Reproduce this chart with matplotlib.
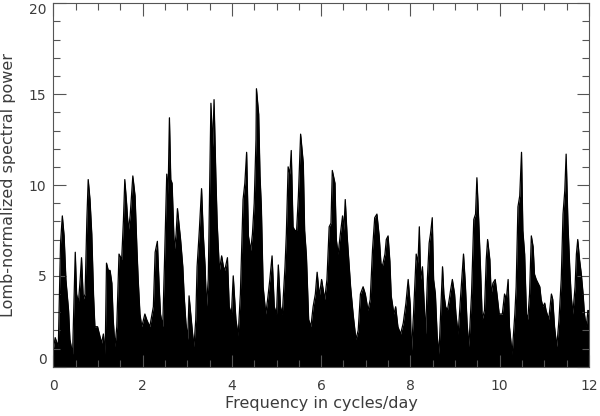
import numpy as np
import matplotlib
matplotlib.use("Agg")
import matplotlib.pyplot as plt
from matplotlib.ticker import MultipleLocator

# envelope of the periodogram (cycles/day, power)
freq_a = [0.00, 0.04, 0.11, 0.16, 0.20, 0.24, 0.28, 0.34, 0.37, 0.43, 0.45, 0.49, 0.52, 0.56, 0.60,
          0.63, 0.67, 0.71, 0.75, 0.78, 0.82, 0.86, 0.90, 0.93, 0.99, 1.03, 1.08, 1.12, 1.16, 1.19,
          1.23, 1.27, 1.31, 1.34, 1.38, 1.42, 1.47, 1.53, 1.57, 1.60, 1.64, 1.68, 1.72, 1.78, 1.83,
          1.87, 1.90, 1.94, 1.98, 2.05, 2.09, 2.16, 2.24, 2.28, 2.33, 2.37, 2.40, 2.45, 2.49, 2.54,
          2.57, 2.60, 2.63, 2.66, 2.71, 2.75, 2.78, 2.82, 2.85, 2.90, 2.93, 2.97, 3.01, 3.04, 3.07,
          3.12, 3.15, 3.19, 3.22, 3.27, 3.32, 3.36, 3.40, 3.43, 3.47, 3.49, 3.53, 3.57, 3.60, 3.64,
          3.67, 3.72, 3.77, 3.81, 3.84, 3.90, 3.94, 3.99]
power_a = [1.0, 1.6, 1.1, 6.8, 8.3, 7.2, 4.8, 3.1, 1.5, 0.7, 2.6, 6.3, 4.0, 3.5, 4.8,
           6.0, 3.7, 4.0, 8.1, 10.3, 9.2, 7.3, 3.9, 2.2, 2.2, 1.8, 1.3, 1.8, 0.7, 5.7,
           5.3, 5.3, 4.6, 2.6, 1.1, 2.2, 6.2, 5.9, 8.1, 10.3, 9.0, 7.5, 8.3, 10.5, 9.4,
           6.6, 4.8, 2.9, 2.2, 2.9, 2.6, 2.2, 3.3, 6.3, 6.9, 4.4, 2.9, 2.2, 5.8, 10.6,
           9.5, 13.7, 10.3, 10.1, 6.4, 7.3, 8.7, 7.7, 7.0, 5.5, 3.9, 2.4, 1.5, 3.9, 3.1,
           1.8, 1.1, 2.6, 5.5, 7.5, 9.8, 7.2, 5.5, 3.3, 4.8, 8.1, 14.5, 12.1, 14.7, 10.5,
           7.9, 5.3, 6.1, 5.5, 5.3, 6.0, 3.3, 2.9]

freq_b = [4.03, 4.09, 4.14, 4.19, 4.25, 4.29, 4.33, 4.37, 4.42, 4.46, 4.50, 4.54, 4.55, 4.60, 4.63,
          4.66, 4.70, 4.76, 4.81, 4.85, 4.90, 4.95, 5.00, 5.04, 5.09, 5.13, 5.19, 5.22, 5.26, 5.30,
          5.33, 5.37, 5.41, 5.45, 5.49, 5.54, 5.60, 5.63, 5.67, 5.72, 5.77, 5.82, 5.87, 5.91, 5.96,
          6.01, 6.08, 6.13, 6.18, 6.22, 6.25, 6.31, 6.34, 6.38, 6.43, 6.48, 6.51, 6.54, 6.58, 6.63,
          6.66, 6.72, 6.78, 6.83, 6.88, 6.94, 6.99, 7.05, 7.10, 7.15, 7.20, 7.25, 7.30, 7.34, 7.37,
          7.43, 7.46, 7.50, 7.54, 7.57, 7.63, 7.67, 7.72, 7.78, 7.84, 7.90, 7.95, 8.00]
power_b = [5.0, 2.6, 1.7, 4.0, 9.2, 10.1, 11.8, 7.2, 6.4, 7.3, 9.0, 12.5, 15.3, 13.9, 10.5,
           8.8, 4.4, 2.9, 3.9, 4.8, 6.1, 3.3, 2.9, 5.6, 3.3, 2.9, 5.5, 7.3, 11.0, 10.6,
           11.9, 7.7, 7.5, 7.5, 9.4, 12.8, 11.2, 7.5, 6.1, 2.6, 2.2, 3.3, 4.0, 5.2, 3.9,
           4.8, 3.7, 4.8, 7.7, 7.9, 10.8, 10.1, 7.0, 6.2, 7.3, 8.3, 7.5, 9.2, 7.3, 5.5,
           4.4, 2.8, 1.5, 2.0, 4.0, 4.4, 4.0, 3.1, 3.7, 6.4, 8.2, 8.4, 7.2, 5.7, 5.5,
           6.2, 7.0, 7.2, 5.8, 3.9, 2.9, 3.3, 2.2, 1.8, 2.4, 3.5, 4.8, 3.3]

freq_c = [8.02, 8.07, 8.13, 8.17, 8.20, 8.23, 8.27, 8.30, 8.34, 8.38, 8.42, 8.45, 8.49, 8.52, 8.56,
          8.60, 8.64, 8.68, 8.72, 8.75, 8.79, 8.83, 8.87, 8.90, 8.94, 8.99, 9.02, 9.07, 9.12, 9.16,
          9.19, 9.23, 9.27, 9.31, 9.37, 9.42, 9.46, 9.49, 9.53, 9.57, 9.61, 9.66, 9.70, 9.73, 9.78,
          9.81, 9.85, 9.90, 9.94, 9.99, 10.06, 10.11, 10.15, 10.19, 10.22, 10.28, 10.34, 10.37, 10.41, 10.45,
          10.49, 10.52, 10.56, 10.60, 10.63, 10.67, 10.71, 10.75, 10.78, 10.82, 10.86, 10.90, 10.93, 10.97, 11.01,
          11.04, 11.10, 11.16, 11.19, 11.23, 11.28, 11.33, 11.38, 11.42, 11.46, 11.49, 11.53, 11.57, 11.60, 11.64,
          11.69, 11.72, 11.75, 11.79, 11.83, 11.87, 11.90, 11.94, 11.98, 12.00]
power_c = [0.7, 2.9, 6.2, 5.7, 7.7, 4.8, 5.5, 3.9, 1.8, 4.8, 6.8, 7.3, 8.2, 4.8, 4.0,
           1.7, 0.7, 3.1, 5.5, 4.0, 3.3, 3.1, 3.7, 4.2, 4.8, 4.0, 2.9, 1.8, 3.7, 5.1,
           6.2, 4.6, 2.4, 1.1, 4.0, 8.1, 8.4, 10.4, 8.1, 5.5, 2.6, 3.1, 5.9, 7.0, 5.9,
           4.0, 4.6, 4.8, 4.0, 2.9, 2.9, 4.0, 3.7, 4.8, 2.2, 0.7, 2.9, 4.4, 8.8, 9.4,
           11.8, 7.5, 6.2, 2.9, 2.6, 4.0, 7.2, 6.6, 5.1, 4.8, 4.6, 4.4, 3.7, 3.3, 3.5,
           3.1, 2.6, 4.0, 3.7, 2.2, 1.1, 2.6, 4.8, 8.4, 9.7, 11.7, 7.9, 5.5, 4.0, 2.9,
           4.4, 6.2, 7.0, 5.9, 5.1, 4.0, 2.9, 2.2, 3.1, 3.0]

y_ticks = [0, 5, 10, 15, 20]

freq = np.array(freq_a + freq_b + freq_c)
power = np.array(power_a + power_b + power_c)

text_color = "#3c3c3c"
axis_color = "#555555"
plt.rcParams['font.family'] = ['DejaVu Sans']
fig = plt.figure(figsize=(6.0, 4.16), dpi=100)
ax = fig.add_axes([0.089, 0.1185, 0.8925, 0.8735])

ax.fill_between(freq, 0, power, color="black", linewidth=0)
ax.plot(freq, power, color="black", linewidth=0.9)

ax.set_xlim(0, 12)
ax.set_ylim(0, 20)
ax.xaxis.set_major_locator(MultipleLocator(2))
ax.xaxis.set_minor_locator(MultipleLocator(0.5))
ax.set_yticks(y_ticks)
ax.yaxis.set_minor_locator(MultipleLocator(1))
ax.tick_params(which="both", direction="in", top=True, right=True, colors=axis_color,
               labelcolor=text_color, labelsize=10, width=0.8)
ax.tick_params(which="major", length=9)
ax.tick_params(which="minor", length=5)
ax.tick_params(axis="x", which="major", pad=9)
ax.tick_params(axis="y", which="major", pad=5)
for side in ax.spines.values():
    side.set_color(axis_color)
    side.set_linewidth(0.8)

ax.set_xlabel("Frequency in cycles/day", color=text_color, fontsize=11.5, labelpad=2)
ax.set_ylabel("Lomb-normalized spectral power", color=text_color, fontsize=11.5, labelpad=9)

# keep the end labels inside the frame like the original
ticks = ax.yaxis.get_major_ticks()
ticks[0].label1.set_verticalalignment("bottom")
ticks[-1].label1.set_verticalalignment("top")

fig.savefig("out.png", dpi=100)
